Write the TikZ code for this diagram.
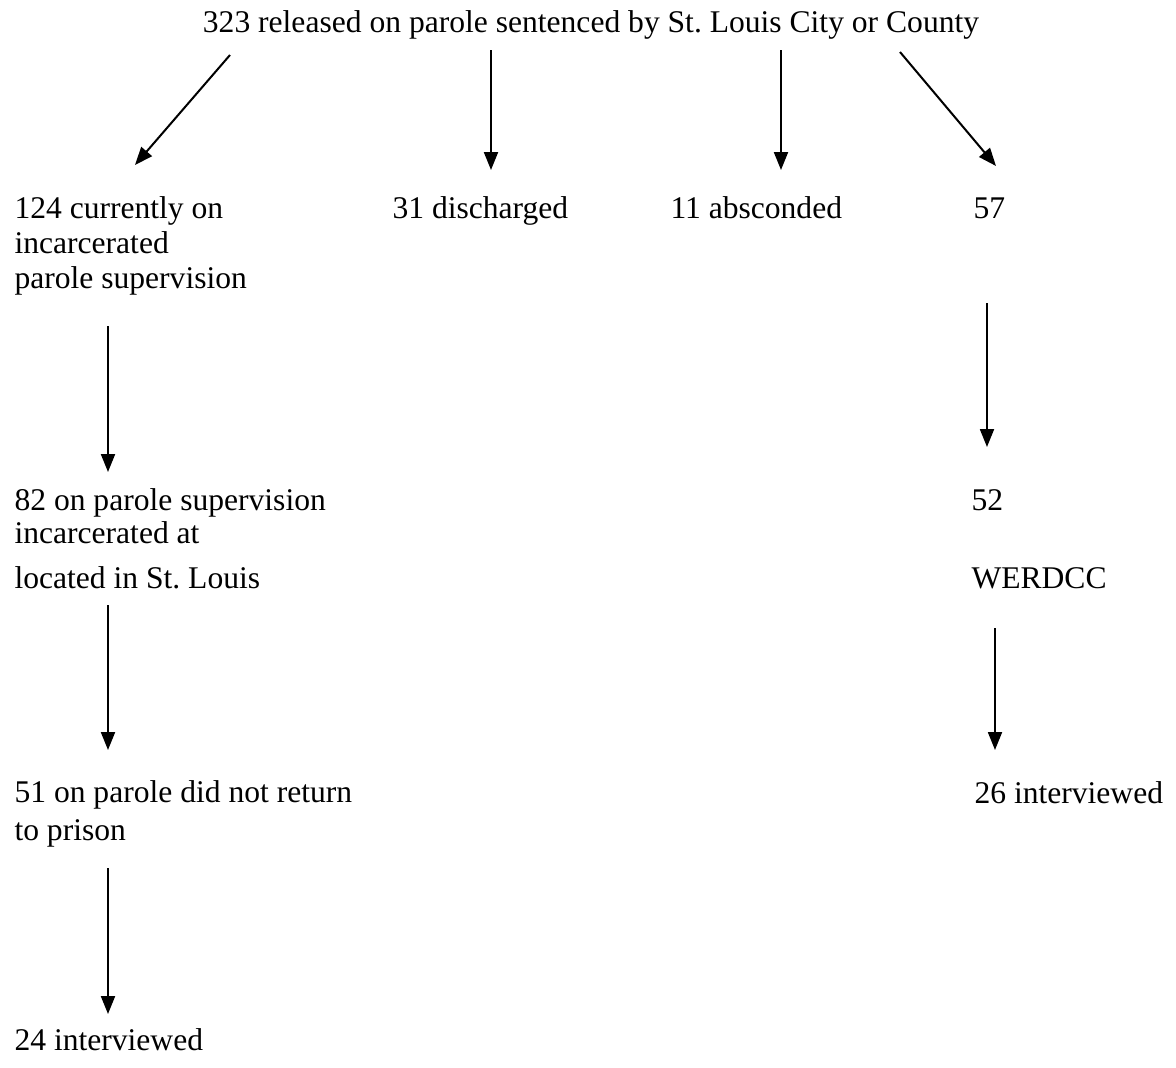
\documentclass[tikz,border=0pt]{standalone}
\usepackage{fontspec}
\setmainfont{Liberation Serif}
\usepackage{tikz}
\usetikzlibrary{arrows.meta, calc}

\begin{document}
\begin{tikzpicture}[
    x=0.38pt, y=-0.38pt,
    label/.style={anchor=base west, inner sep=0pt, align=left,
                  font=\fontsize{12}{13.3}\selectfont},
    arrow/.style={-{Triangle[width=5.3pt, length=6.8pt]}, line width=0.76pt}
]
\useasboundingbox (0,0) rectangle (1176,1068);

% Components (multi-line nodes sit on their last baseline)
\node[label, anchor=base] at (591,32) (title) {323 released on parole sentenced by St.\ Louis City or County};
\node[label] at (14,288) (cur) {124 currently on\\incarcerated\\parole supervision};
\node[label] at (392,218) (dis) {31 discharged};
\node[label] at (670,218) (abs) {11 absconded};
\node[label] at (973,218) (n57) {57};
\node[label, font=\fontsize{12}{12.5}\selectfont] at (14,588) (sup) {82 on parole supervision\\incarcerated at\\[4.6pt]located in St.\ Louis};
\node[label] at (971,588) (n52) {52\\[16.3pt]WERDCC};
\node[label, font=\fontsize{12}{14.1}\selectfont] at (14,840) (ret) {51 on parole did not return\\to prison};
\node[label] at (974,803) (iv26) {26 interviewed};
\node[label] at (14,1050) (iv24) {24 interviewed};

% Arrows
\draw[arrow] ($(title.base)+(-361,23)$) -- ($(cur.base west)+(121,-123)$);
\draw[arrow] ($(title.base)+(-100,18)$) -- ($(dis.base west)+(99,-48)$);
\draw[arrow] ($(title.base)+(190,18)$) -- ($(abs.base west)+(111,-48)$);
\draw[arrow] ($(title.base)+(309,20)$) -- ($(n57.base west)+(23,-52)$);
\draw[arrow] ($(cur.base west)+(94,38)$) -- ($(sup.base west)+(94,-116)$);
\draw[arrow] ($(n57.base west)+(14,85)$) -- ($(n52.base west)+(16,-141)$);
\draw[arrow] ($(sup.base west)+(94,17)$) -- ($(ret.base west)+(94,-90)$);
\draw[arrow] ($(n52.base west)+(24,40)$) -- ($(iv26.base west)+(21,-53)$);
\draw[arrow] ($(ret.base west)+(94,28)$) -- ($(iv24.base west)+(94,-36)$);

\end{tikzpicture}
\end{document}
